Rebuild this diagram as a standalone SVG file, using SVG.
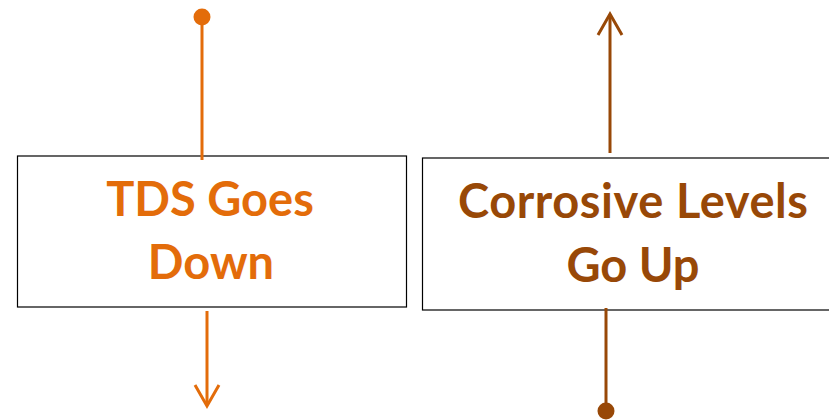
<svg xmlns="http://www.w3.org/2000/svg" width="829" height="420" viewBox="0 0 829 420">
<style>
.box{fill:#fff;stroke:#000;stroke-width:1.2}
.lbl{font-family:Lato,"Liberation Sans",sans-serif;font-weight:bold;font-size:47px;text-anchor:middle}
.or{fill:#E36C0A}
.br{fill:#984807}
.cor{stroke:#E36C0A;stroke-width:3;fill:none}
.cbr{stroke:#984807;stroke-width:3;fill:none}
</style>
<g id="node-tds">
<rect class="box" x="17.5" y="156" width="389" height="151"/>
<text class="lbl or" x="210" y="216">TDS Goes</text>
<text class="lbl or" x="211" y="279">Down</text>
</g>
<g id="node-corrosive">
<rect class="box" x="422.5" y="158" width="420" height="152"/>
<text class="lbl br" x="633" y="218" textLength="350" lengthAdjust="spacing">Corrosive Levels</text>
<text class="lbl br" x="633" y="282">Go Up</text>
</g>
<g id="connectors">
<circle cx="202" cy="17" r="8.5" fill="#E36C0A"/>
<line class="cor" x1="202" y1="17" x2="202" y2="160"/>
<path class="cor" d="M207,311 L207,405"/>
<path class="cor" d="M195,385 L207,406 L219,385"/>
<path class="cbr" d="M610,153 L610,15"/>
<path class="cbr" d="M598,35 L610,14 L622,35"/>
<line class="cbr" x1="606" y1="308" x2="606" y2="411"/>
<circle cx="606" cy="411" r="8.5" fill="#984807"/>
</g>
</svg>
